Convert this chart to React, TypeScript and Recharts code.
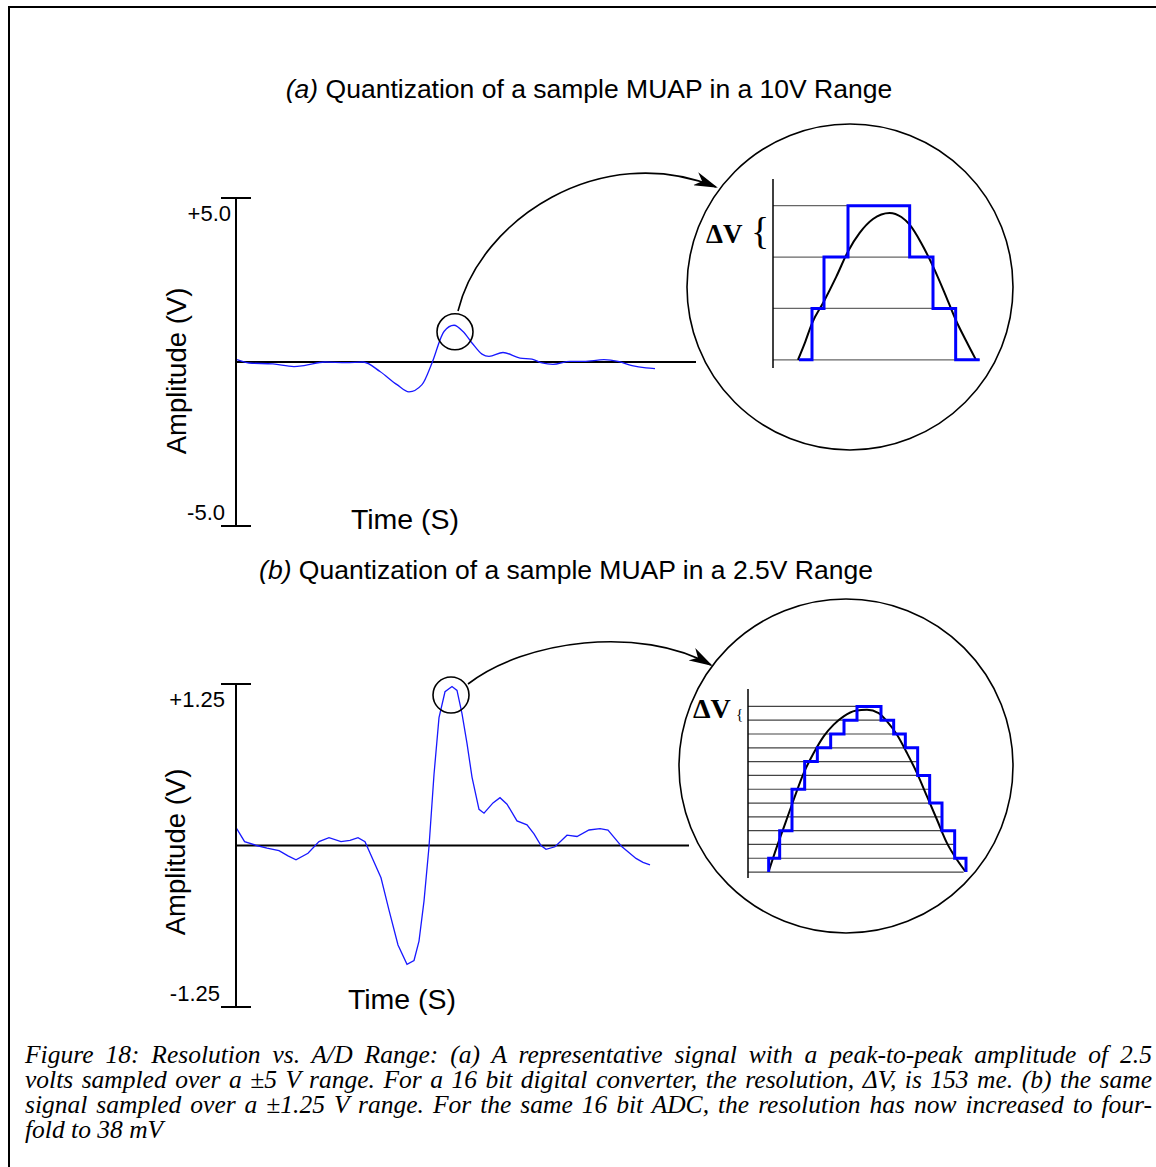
import React from 'react';
import { LineChart, Line, XAxis, YAxis, ReferenceLine, ReferenceDot } from 'recharts';

const SANS = '"Liberation Sans", Arial, sans-serif';
const SERIF = '"Liberation Serif", "Times New Roman", serif';
const BLUE = '#1818ff';

// (a) MUAP in the ±5 V range, time in arbitrary units
const timeA = [0.1, 1.3, 3.7, 5.8, 6.8, 8.9, 11.0, 12.7, 14.4, 16.1, 17.3, 18.6, 19.6, 20.8, 21.8, 22.7, 23.6, 24.6, 25.3, 26.7, 28.4, 29.6, 30.6, 31.7, 33.4, 34.8, 36.8, 38.2, 39.6, 41.0, 41.9];
const voltsA = [0.07, -0.03, -0.06, -0.14, -0.11, 0, -0.02, 0, -0.29, -0.69, -0.91, -0.69, -0.03, 0.93, 1.12, 0.93, 0.58, 0.24, 0.17, 0.29, 0.12, 0.09, -0.03, -0.07, 0.02, 0.02, 0.07, 0.02, -0.11, -0.18, -0.2];
const ticksA = [-5, 5];
const tickLabelsA = ['-5.0', '+5.0'];

// (b) same MUAP in the ±1.25 V range
const timeB = [0.07, 0.86, 2.07, 3.1, 4.3, 5.2, 6.0, 7.2, 8.3, 9.3, 10.5, 11.4, 12.2, 12.9, 14.5, 15.3, 16.2, 17.1, 17.8, 18.3, 18.8, 19.3, 19.8, 20.3, 20.9, 21.6, 22.1, 22.6, 23.1, 23.6, 24.3, 24.8, 25.7, 26.4, 27.1, 28.1, 29.1, 29.8, 30.5, 31.0, 31.9, 33.1, 34.1, 35.3, 36.4, 37.2, 38.6, 40.0, 40.7, 41.4];
const voltsB = [0.13, 0.03, 0, -0.02, -0.04, -0.08, -0.11, -0.06, 0.03, 0.06, 0.03, 0.04, 0.06, 0.03, -0.25, -0.5, -0.77, -0.92, -0.89, -0.74, -0.43, -0.01, 0.55, 0.99, 1.19, 1.23, 1.2, 1.02, 0.79, 0.53, 0.28, 0.25, 0.33, 0.37, 0.32, 0.19, 0.16, 0.09, 0, -0.03, -0.01, 0.08, 0.07, 0.12, 0.13, 0.12, -0.01, -0.1, -0.13, -0.15];
const ticksB = [-1.25, 1.25];
const tickLabelsB = ['-1.25', '+1.25'];

// zoomed peaks: x in arbitrary units, y in ΔV steps
const curveUA = [7.5, 9.5, 11.7, 15.3, 19, 22.5, 26, 30, 35, 38.5, 41, 44.5, 48, 51.5, 54.8, 58, 60.8];
const curveLA = [0, 0.32, 0.71, 1.14, 1.62, 2.11, 2.47, 2.74, 2.86, 2.78, 2.63, 2.27, 1.82, 1.3, 0.78, 0.36, 0.01];
const stepUA = [7.8, 11.7, 15.3, 22.5, 41, 48, 54.8, 62];
const stepLA = [0, 1, 2, 3, 2, 1, 0, 0];
const gridLevelsA = [0, 1, 2, 3];
const gridEndsA = [62, 54.8, 48, 41];

const curveUB = [6.2, 8.7, 11.2, 13.7, 16.7, 19.7, 22.7, 25.7, 28.7, 32.2, 35.7, 39.2, 41.7, 44.7, 47.7, 50.7, 53.7, 56.7, 59.7, 62.7, 65.2];
const curveLB = [0.05, 1.86, 3.55, 5.24, 7.17, 8.62, 9.83, 10.68, 11.28, 11.69, 11.76, 11.52, 10.92, 9.95, 8.62, 7.17, 5.48, 3.79, 2.1, 0.89, 0.05];
const stepUB = [6.2, 6.2, 9.5, 13.2, 17, 20.8, 24.8, 28.8, 32.7, 39.9, 43.7, 47.2, 50.9, 54.5, 58.2, 62, 65.4];
const stepLB = [0, 1, 3, 6, 8, 9, 10, 11, 12, 11, 10, 9, 7, 5, 3, 1, 0];
const gridLevelsB = [0, 1, 2, 3, 4, 5, 6, 7, 8, 9, 10, 11, 12];
const gridEndsB = [64.7, 65.5, 61.7, 61.7, 58.2, 58.2, 54.7, 54.7, 51.2, 50.9, 47.2, 43.7, 32.7];

const captionLines = [
  'Figure 18: Resolution vs. A/D Range: (a) A representative signal with a peak-to-peak amplitude of 2.5',
  'volts sampled over a ±5 V range. For a 16 bit digital converter, the resolution, ΔV, is 153 me. (b) the same',
  'signal sampled over a ±1.25 V range. For the same 16 bit ADC, the resolution has now increased to four-',
  'fold to 38 mV',
];

const signalRows = (ts: number[], vs: number[]) => ts.map((t, i) => ({ t, v: vs[i] }));
const zoomRows = (us: number[], ls: number[]) => us.map((u, i) => ({ u, y: ls[i] }));

const EndTick = (props: any) => {
  const { x, y, payload, ticks, labels, spec } = props;
  const isTop = payload.value > 0;
  const s = isTop ? spec.top : spec.bottom;
  return (
    <g>
      <line x1={x - 15} x2={x + 15} y1={y} y2={y} stroke="#000" strokeWidth={2} />
      <text x={x + s[0]} y={y + s[1]} textAnchor="end" fontFamily={SANS} fontSize={22} fill="#000">
        {labels[ticks.indexOf(payload.value)]}
      </text>
    </g>
  );
};

const SignalPanel = ({ top, plotW, plotH, xMax, lim, data, ticks, labels, peak, spec, curve }: any) => (
  <div style={{ position: 'absolute', left: 100, top: top - 20 }}>
    <LineChart
      width={136 + plotW + 20}
      height={plotH + 50}
      data={data}
      margin={{ top: 20, right: 20, bottom: 30, left: 0 }}
    >
      <XAxis type="number" dataKey="t" domain={[0, xMax]} hide />
      <YAxis
        type="number"
        domain={[-lim, lim]}
        ticks={ticks}
        interval={0}
        width={136}
        tickSize={0}
        tickMargin={0}
        tickLine={false}
        axisLine={{ stroke: '#000', strokeWidth: 2 }}
        tick={(p: any) => <EndTick {...p} ticks={ticks} labels={labels} spec={spec} />}
      />
      <ReferenceLine y={0} stroke="#000" strokeWidth={2} />
      <Line
        type={curve}
        dataKey="v"
        stroke={BLUE}
        strokeWidth={1.3}
        dot={false}
        isAnimationActive={false}
      />
      <ReferenceDot x={peak[0]} y={peak[1]} r={18} fill="none" stroke="#000" strokeWidth={1.6} />
    </LineChart>
  </div>
);

const ZoomPanel = ({ left, top, w, h, uMax, yDom, curve, step, levels, ends, gridColor, stepWidth }: any) => (
  <div style={{ position: 'absolute', left: left - 4, top: top - 4 }}>
    <LineChart width={w + 8} height={h + 8} margin={{ top: 4, right: 4, bottom: 4, left: 4 }}>
      <XAxis type="number" dataKey="u" domain={[0, uMax]} hide />
      <YAxis type="number" domain={yDom} hide />
      {levels.map((lv: number, i: number) => (
        <ReferenceLine
          key={lv}
          segment={[{ x: 0, y: lv }, { x: ends[i], y: lv }]}
          stroke={gridColor}
          strokeWidth={1.2}
        />
      ))}
      <ReferenceLine x={0} stroke="#000" strokeWidth={1.5} />
      <Line
        data={curve}
        type="monotone"
        dataKey="y"
        stroke="#000"
        strokeWidth={2}
        dot={false}
        isAnimationActive={false}
      />
      <Line
        data={step}
        type="stepAfter"
        dataKey="y"
        stroke="#0000ff"
        strokeWidth={stepWidth}
        dot={false}
        isAnimationActive={false}
      />
    </LineChart>
  </div>
);

export default function App() {
  return (
    <div
      style={{
        position: 'relative',
        width: 1156,
        height: 1167,
        overflow: 'hidden',
        background: '#fff',
      }}
    >
      <style>{'body{margin:0;overflow:hidden;}'}</style>
      <div
        style={{
          position: 'absolute',
          left: 8,
          top: 6,
          width: 1200,
          height: 1200,
          border: '2px solid #000',
        }}
      />

      <SignalPanel
        top={198}
        plotW={460}
        plotH={328}
        xMax={46}
        lim={5}
        data={signalRows(timeA, voltsA)}
        ticks={ticksA}
        labels={tickLabelsA}
        peak={[21.9, 0.92]}
        spec={{ top: [-5, 23], bottom: [-11, -6] }}
        curve="monotone"
      />
      <SignalPanel
        top={684}
        plotW={453}
        plotH={323}
        xMax={45.3}
        lim={1.25}
        data={signalRows(timeB, voltsB)}
        ticks={ticksB}
        labels={tickLabelsB}
        peak={[21.5, 1.165]}
        spec={{ top: [-11, 23], bottom: [-16, -6] }}
        curve="linear"
      />

      <ZoomPanel
        left={773}
        top={179}
        w={210}
        h={189}
        uMax={63}
        yDom={[-0.16, 3.52]}
        curve={zoomRows(curveUA, curveLA)}
        step={zoomRows(stepUA, stepLA)}
        levels={gridLevelsA}
        ends={gridEndsA}
        gridColor="#666"
        stepWidth={3}
      />
      <ZoomPanel
        left={748}
        top={689}
        w={220}
        h={189}
        uMax={66}
        yDom={[-0.43, 13.26]}
        curve={zoomRows(curveUB, curveLB)}
        step={zoomRows(stepUB, stepLB)}
        levels={gridLevelsB}
        ends={gridEndsB}
        gridColor="#444"
        stepWidth={3}
      />

      <svg
        width={1156}
        height={1167}
        style={{ position: 'absolute', left: 0, top: 0, pointerEvents: 'none' }}
      >
        <defs>
          <marker
            id="arrowHead"
            viewBox="0 0 24 14"
            refX={22}
            refY={7}
            markerWidth={24}
            markerHeight={14}
            markerUnits="userSpaceOnUse"
            orient="auto"
          >
            <path d="M0,0 L24,7 L0,14 L7,7 Z" fill="#000" />
          </marker>
        </defs>

        <text x={589} y={98} textAnchor="middle" fontFamily={SANS} fontSize={26.5}>
          <tspan fontStyle="italic">(a)</tspan>
          {' Quantization of a sample MUAP in a 10V Range'}
        </text>
        <text x={566} y={579} textAnchor="middle" fontFamily={SANS} fontSize={26.5}>
          <tspan fontStyle="italic">(b)</tspan>
          {' Quantization of a sample MUAP in a 2.5V Range'}
        </text>

        <text transform="translate(186,371) rotate(-90)" textAnchor="middle" fontFamily={SANS} fontSize={27.5}>
          Amplitude (V)
        </text>
        <text transform="translate(185,852) rotate(-90)" textAnchor="middle" fontFamily={SANS} fontSize={27.5}>
          Amplitude (V)
        </text>
        <text x={405} y={529} textAnchor="middle" fontFamily={SANS} fontSize={28.5}>
          Time (S)
        </text>
        <text x={402} y={1009} textAnchor="middle" fontFamily={SANS} fontSize={28.5}>
          Time (S)
        </text>

        <path
          d="M 458 311 C 480 220, 600 140, 716 187"
          fill="none"
          stroke="#000"
          strokeWidth={1.6}
          markerEnd="url(#arrowHead)"
        />
        <path
          d="M 468 684 C 525 640, 640 625, 711 665"
          fill="none"
          stroke="#000"
          strokeWidth={1.6}
          markerEnd="url(#arrowHead)"
        />
        <circle cx={850} cy={287} r={163} fill="none" stroke="#000" strokeWidth={1.6} />
        <circle cx={846} cy={766} r={167} fill="none" stroke="#000" strokeWidth={1.6} />

        <text x={706} y={243} fontFamily={SERIF} fontWeight="bold" fontSize={27}>ΔV</text>
        <text x={751} y={244} fontFamily={SERIF} fontSize={38}>{'{'}</text>
        <text x={693} y={718} fontFamily={SERIF} fontWeight="bold" fontSize={28}>ΔV</text>
        <text x={736} y={719} fontFamily={SERIF} fontSize={15}>{'{'}</text>
      </svg>

      <div
        style={{
          position: 'absolute',
          left: 25,
          top: 1042,
          width: 1127,
          fontFamily: SERIF,
          fontStyle: 'italic',
          fontSize: 25.5,
          lineHeight: '25px',
          color: '#000',
        }}
      >
        {captionLines.map((line, i) => (
          <div
            key={i}
            style={{
              textAlign: 'justify',
              textAlignLast: i < captionLines.length - 1 ? 'justify' : 'left',
            }}
          >
            {line}
          </div>
        ))}
      </div>
    </div>
  );
}
